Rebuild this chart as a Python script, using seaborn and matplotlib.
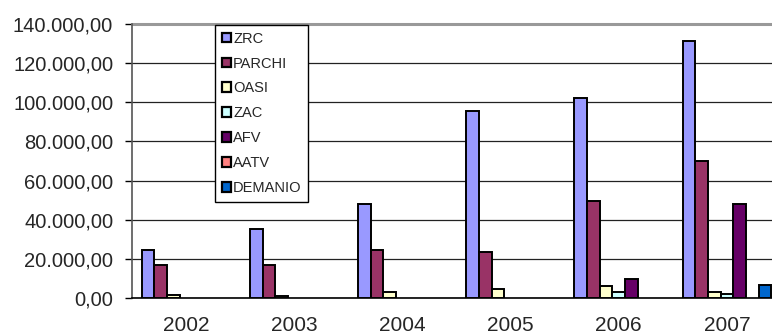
import matplotlib
matplotlib.use("Agg")
import matplotlib.pyplot as plt
from matplotlib.ticker import FuncFormatter, FixedLocator
import numpy as np
import pandas as pd
import seaborn as sns

years = ["2002", "2003", "2004", "2005", "2006", "2007"]
zrc = [24700, 35300, 48100, 95500, 102100, 131300]
parchi = [16900, 17000, 24600, 23300, 49500, 70200]
oasi = [1500, 1000, 2900, 4700, 6000, 3200]
zac = [np.nan, np.nan, np.nan, np.nan, 2900, 2000]
afv = [np.nan, np.nan, np.nan, np.nan, 9700, 48000]
aatv = [np.nan, np.nan, np.nan, np.nan, np.nan, np.nan]
demanio = [np.nan, np.nan, np.nan, np.nan, np.nan, 6800]

series = ["ZRC", "PARCHI", "OASI", "ZAC", "AFV", "AATV", "DEMANIO"]
colors = ["#9999FF", "#993366", "#FFFFCC", "#CCFFFF", "#660066", "#FF8080", "#0066CC"]

values = [zrc, parchi, oasi, zac, afv, aatv, demanio]
rows = []
for name, vals in zip(series, values):
    for yr, v in zip(years, vals):
        rows.append({"anno": yr, "tipo": name, "valore": v})
df = pd.DataFrame(rows)

sns.set_style("white")
plt.rcParams["font.family"] = ["Liberation Sans", "DejaVu Sans"]

fig = plt.figure(figsize=(7.72, 3.36), dpi=100)
ax = fig.add_axes([132 / 772, 1 - 298 / 336, (781 - 132) / 772, (298 - 24) / 336])

sns.barplot(
    data=df, x="anno", y="valore", hue="tipo", order=years, hue_order=series,
    palette=colors, width=0.82, gap=0, edgecolor="black", linewidth=1.4,
    saturation=1, errorbar=None, ax=ax, zorder=3,
)

ax.set_ylim(0, 140000)
ax.set_xlim(-0.5, 5.5)
ax.yaxis.set_major_locator(FixedLocator(np.arange(0, 140001, 20000)))
ax.yaxis.set_major_formatter(
    FuncFormatter(lambda v, p: f"{v:,.2f}".replace(",", "X").replace(".", ",").replace("X", "."))
)
ax.grid(axis="y", color="#222222", linewidth=0.9, zorder=0)
ax.set_axisbelow(True)
ax.set_xlabel("")
ax.set_ylabel("")

ax.set_xticks(range(len(years)))
ax.set_xticklabels(years)
ax.set_xticks(np.arange(-0.5, 6.0, 1.0), minor=True)
ax.tick_params(axis="x", which="major", length=0, pad=13, labelsize=15)
ax.tick_params(axis="x", which="minor", length=5, width=1, color="black", direction="out")
ax.tick_params(axis="y", which="major", length=5, width=1, color="black", direction="out",
               labelsize=14.5, pad=8.5, left=True)

for side in ["top", "right"]:
    ax.spines[side].set_visible(False)
ax.spines["left"].set_color("#555555")
ax.spines["left"].set_linewidth(1.2)
ax.spines["bottom"].set_color("black")
ax.spines["bottom"].set_linewidth(1.2)
ax.axhline(140000, color="#999999", linewidth=2.2, zorder=1, clip_on=False)

handles, labels = ax.get_legend_handles_labels()
leg = ax.legend(
    handles, labels, loc="upper left",
    bbox_to_anchor=((215 - 132) / 649, 1 - (25 - 24) / 274),
    frameon=True, fancybox=False, shadow=False, framealpha=1,
    fontsize=10.5, handlelength=0.65, handleheight=0.65, handletextpad=0.15,
    labelspacing=0.75, borderpad=0.45, borderaxespad=0,
)
leg.get_frame().set_edgecolor("black")
leg.get_frame().set_linewidth(1.0)
for h in leg.legend_handles:
    h.set_edgecolor("black")
    h.set_linewidth(1.6)

fig.savefig("out.png", dpi=100)
